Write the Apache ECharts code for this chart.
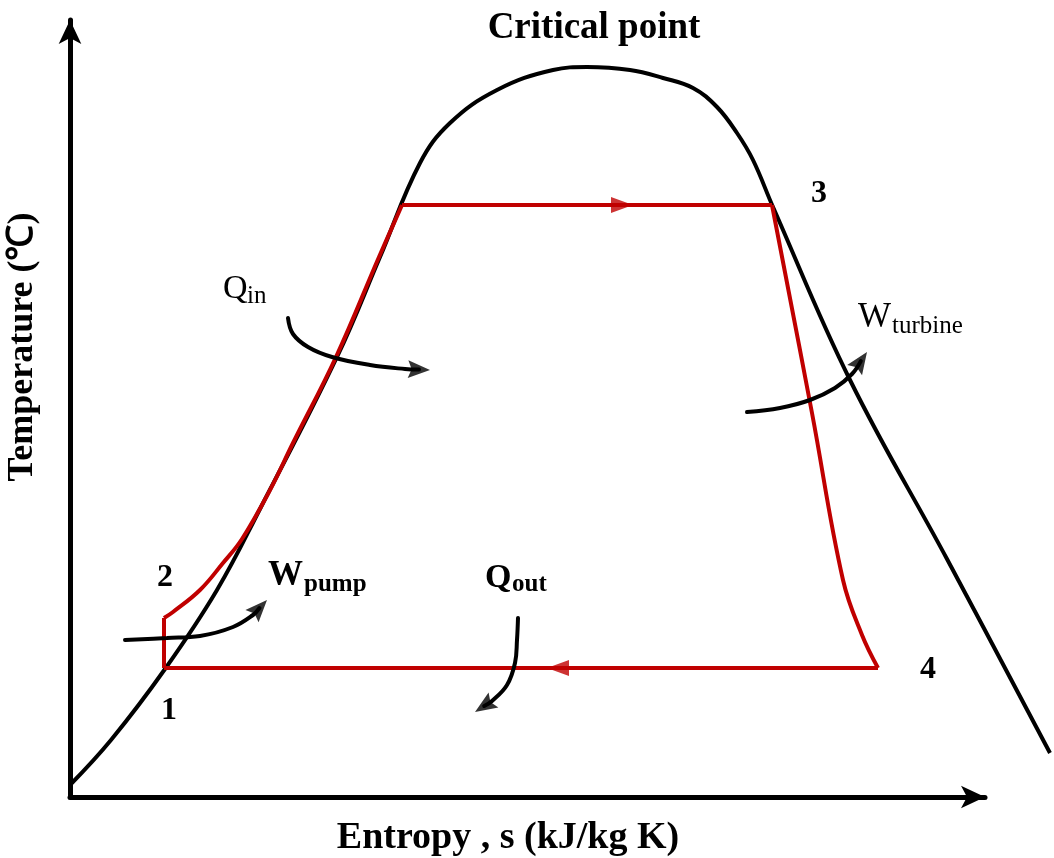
<!DOCTYPE html>
<html>
<head>
<meta charset="utf-8">
<script src="https://cdn.jsdelivr.net/npm/echarts@6/dist/echarts.min.js"></script>
<style>
  html, body { margin: 0; padding: 0; background: #fff; }
  #main { width: 1054px; height: 858px; }
</style>
</head>
<body>
<div id="main"></div>
<script>
// saturation dome (s, T) - schematic units
const domeCurve = [
  [0, 12], [41, 57], [95, 128], [147, 207], [191, 290], [267, 440], [310, 540],
  [350, 634], [380, 674], [427, 707], [483, 727], [517, 730], [560, 727],
  [593, 719], [623, 709], [647, 690], [667, 664], [683, 637], [703, 590],
  [780, 417], [877, 238], [980, 44]
]

// Rankine cycle, split into straight and curved legs
const pumpLeg = [[94, 129], [94, 179]]
const heatingLeg = [
  [94, 179], [103, 185], [130, 207], [153, 234], [172, 258], [200, 307],
  [223, 354], [266, 440], [309, 540], [332, 592]
]
const boilerLeg = [[332, 592], [702, 592]]
const turbineLeg = [[702, 592], [742, 384], [773, 217], [792, 162], [808, 129]]
const condenserLeg = [[808, 129], [94, 129]]

// cycle direction arrow tips
const topArrowTip = [563, 592]
const bottomArrowTip = [477, 129]

// curved energy arrows (start ... tip)
const qinArrow = [[218, 479], [223, 463], [238, 450], [262, 440], [300, 432], [335, 428], [360, 427]]
const turbineArrow = [[677, 385], [710, 389], [740, 397], [765, 409], [782, 423], [797, 445]]
const pumpArrow = [[55, 157], [97, 159], [130, 161], [163, 170], [183, 182], [197, 197]]
const qoutArrow = [[448, 179], [447, 157], [445, 134], [437, 112], [422, 96], [405, 85]]

const RED = '#C00000'
const FONT = '"Liberation Serif", "Times New Roman", serif'
const HEAD = 'path://M10,0 L20,24 L10,20 L0,24 Z'

const chart = echarts.init(document.getElementById('main'))

// line that stops under its arrowhead + the rotated head itself
const headLen = 22
function curvedArrow (path) {
  const n = path.length
  const tip = path[n - 1]
  const prev = path[n - 2]
  const dx = tip[0] - prev[0]
  const dy = tip[1] - prev[1]
  const d = Math.sqrt(dx * dx + dy * dy)
  const base = [tip[0] - dx / d * headLen * 0.5, tip[1] - dy / d * headLen * 0.5]
  const rot = Math.atan2(dy, dx) * 180 / Math.PI - 90
  return [
    {
      type: 'line',
      xAxisIndex: 1,
      yAxisIndex: 1,
      data: path.slice(0, n - 1).concat([base]),
      smooth: 0.4,
      showSymbol: false,
      clip: false,
      lineStyle: { color: '#000', width: 4, cap: 'round' }
    },
    {
      type: 'scatter',
      xAxisIndex: 1,
      yAxisIndex: 1,
      data: [base],
      symbol: HEAD,
      symbolSize: [18, headLen],
      symbolRotate: rot,
      itemStyle: { color: '#000' }
    }
  ]
}

function leg (data, color, smooth) {
  return {
    type: 'line',
    xAxisIndex: 1,
    yAxisIndex: 1,
    data: data,
    smooth: smooth,
    showSymbol: false,
    clip: false,
    lineStyle: { color: color, width: 4, join: 'miter' }
  }
}

function flatHead (tip, dir) {
  return {
    type: 'scatter',
    xAxisIndex: 1,
    yAxisIndex: 1,
    data: [[tip[0] - dir * 11, tip[1]]],
    symbol: 'triangle',
    symbolSize: [16, 22],
    symbolRotate: dir > 0 ? -90 : 90,
    itemStyle: { color: RED }
  }
}

function txt (text, x, y, size, bold, align, extra) {
  return Object.assign({
    type: 'text',
    x: x,
    y: y,
    style: {
      text: text,
      fill: '#000',
      font: (bold ? 'bold ' : '') + size + 'px ' + FONT,
      textAlign: align || 'center',
      align: align || 'center',
      textVerticalAlign: 'middle',
      verticalAlign: 'middle'
    }
  }, extra || {})
}

const hidden = { show: false }
const arrowAxisLine = {
  show: true,
  lineStyle: { color: '#000', width: 5 },
  symbol: ['none', 'arrow'],
  symbolSize: [17, 24]
}

const options = {
  animation: false,
  backgroundColor: '#fff',
  grid: [
    // visible axes with arrows
    { left: 70, right: 69, top: 20, bottom: 61 },
    // plotting area, same scale but wide enough for the dome tail
    { left: 70, right: 0, top: 20, bottom: 61 }
  ],
  xAxis: [
    { type: 'value', gridIndex: 0, min: 0, max: 915, axisLine: arrowAxisLine,
      axisTick: hidden, axisLabel: hidden, splitLine: hidden },
    { type: 'value', gridIndex: 1, min: 0, max: 984, axisLine: hidden,
      axisTick: hidden, axisLabel: hidden, splitLine: hidden }
  ],
  yAxis: [
    { type: 'value', gridIndex: 0, min: 0, max: 777, axisLine: arrowAxisLine,
      axisTick: hidden, axisLabel: hidden, splitLine: hidden },
    { type: 'value', gridIndex: 1, min: 0, max: 777, axisLine: hidden,
      axisTick: hidden, axisLabel: hidden, splitLine: hidden }
  ],
  series: [
    leg(domeCurve, '#000', 0.4),
    leg(pumpLeg, RED, false),
    leg(heatingLeg, RED, 0.4),
    leg(boilerLeg, RED, false),
    leg(turbineLeg, RED, 0.4),
    leg(condenserLeg, RED, false),
    flatHead(topArrowTip, 1),
    flatHead(bottomArrowTip, -1),
    ...curvedArrow(qinArrow),
    ...curvedArrow(turbineArrow),
    ...curvedArrow(pumpArrow),
    ...curvedArrow(qoutArrow)
  ],
  graphic: [
    txt('Critical point', 594, 28, 37, true),
    txt('Entropy , s (kJ/kg K)', 508, 838, 38, true),
    txt('Temperature (℃)', 23, 347, 36, true, 'center', { rotation: Math.PI / 2 }),
    txt('3', 819, 194, 32, true),
    txt('2', 165, 578, 32, true),
    txt('1', 169, 711, 32, true),
    txt('4', 928, 670, 32, true),
    txt('Q', 223, 289, 34, false, 'left'),
    txt('in', 247, 296, 25, false, 'left'),
    txt('W', 858, 318, 35, false, 'left'),
    txt('turbine', 892, 326, 25, false, 'left'),
    txt('W', 268, 576, 35, true, 'left'),
    txt('pump', 304, 585, 25, true, 'left'),
    txt('Q', 485, 578, 34, true, 'left'),
    txt('out', 512, 585, 25, true, 'left')
  ]
}

chart.setOption(options)
</script>
</body>
</html>
